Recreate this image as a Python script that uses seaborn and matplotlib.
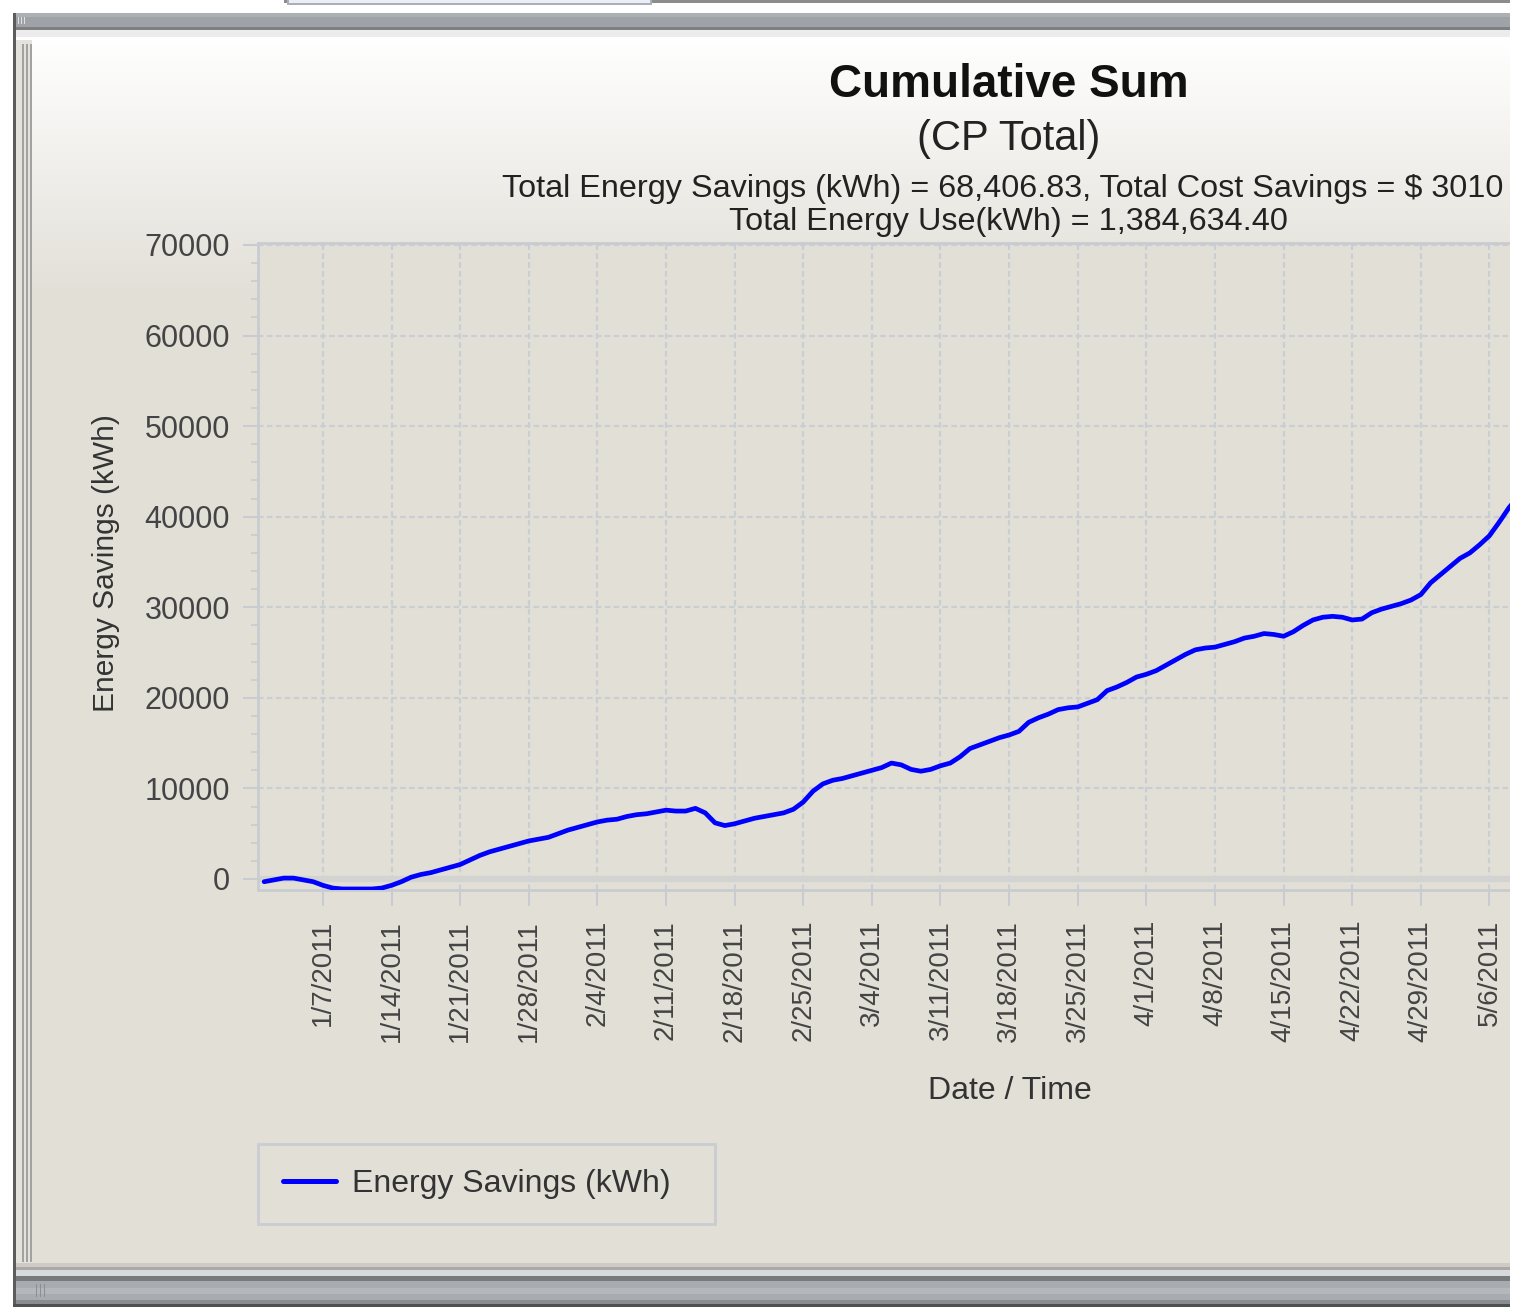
import numpy as np
import pandas as pd
import matplotlib
matplotlib.use("Agg")
import matplotlib.pyplot as plt
import matplotlib.dates as mdates
from matplotlib.ticker import MultipleLocator, FuncFormatter
from matplotlib.patches import Rectangle
import seaborn as sns

# ---------------- data ----------------
title = "Cumulative Sum"
subtitle = "(CP Total)"
info_line1 = "Total Energy Savings (kWh) = 68,406.83, Total Cost Savings = $ 3010"
info_line2 = "Total Energy Use(kWh) = 1,384,634.40"
x_label = "Date / Time"
y_label = "Energy Savings (kWh)"
series_name = "Energy Savings (kWh)"
start_date = "2011-01-01"          # daily cumulative values start here
savings = [
    -300, -100, 100, 100, -100, -300, -700, -1000, -1100, -1100,
    -1100, -1100, -1000, -700, -300, 200, 500, 700, 1000, 1300,
    1600, 2100, 2600, 3000, 3300, 3600, 3900, 4200, 4400, 4600,
    5000, 5400, 5700, 6000, 6300, 6500, 6600, 6900, 7100, 7200,
    7400, 7600, 7500, 7500, 7800, 7300, 6200, 5900, 6100, 6400,
    6700, 6900, 7100, 7300, 7700, 8500, 9700, 10500, 10900, 11100,
    11400, 11700, 12000, 12300, 12800, 12600, 12100, 11900, 12100, 12500,
    12800, 13500, 14400, 14800, 15200, 15600, 15900, 16300, 17300, 17800,
    18200, 18700, 18900, 19000, 19400, 19800, 20800, 21200, 21700, 22300,
    22600, 23000, 23600, 24200, 24800, 25300, 25500, 25600, 25900, 26200,
    26600, 26800, 27100, 27000, 26800, 27300, 28000, 28600, 28900, 29000,
    28900, 28600, 28700, 29400, 29800, 30100, 30400, 30800, 31400, 32700,
    33600, 34500, 35400, 36000, 36900, 37900, 39400, 41000, 42300,
]
y_ticks = [0, 10000, 20000, 30000, 40000, 50000, 60000, 70000]

# ---------------- figure ----------------
W, H = 1522, 1315
sns.set_theme(style="white")
plt.rcParams['font.family'] = ['Liberation Sans', 'DejaVu Sans']

fig = plt.figure(figsize=(W / 100, H / 100), dpi=100)
fig.patch.set_facecolor("white")

BEIGE = "#E2DFD7"
GRID = "#C9CED3"

# background / window frame (pixel coords, y downward)
bg = fig.add_axes([0, 0, 1, 1], zorder=-10)
bg.axis("off")


def rect(x0, y0, x1, y1, color, z=2):
    bg.add_patch(Rectangle((x0, y0), x1 - x0, y1 - y0, facecolor=color,
                           edgecolor="none", zorder=z))


# panel gradient (white -> beige)
n = 400
top_c = np.array([1.0, 1.0, 1.0])
bot_c = np.array([0xE2, 0xDF, 0xD7]) / 255.0
t = np.clip(np.linspace(0, 1, n) * (1228 / 260.0), 0, 1)[:, None]
grad = (top_c * (1 - t) + bot_c * t)[:, None, :]
bg.imshow(grad, extent=(16, 1510, 1265, 37), aspect="auto", zorder=1)

# top strip and tab
rect(284, 0, 1522, 3, "#8C8C8C")
rect(287, 0, 652, 5, "#A9AFBF")
rect(289, 0, 650, 3, "#ECEEF4")
# window title bar
rect(13, 13, 1510, 30, "#9FA3A7")
rect(13, 13, 1510, 17, "#ADB0B3")
rect(13, 27, 1510, 30, "#7D7F82")
rect(16, 30, 1510, 37, "#ECECEC")
for gx in (18, 21, 24):
    rect(gx, 17, gx + 1, 24, "#E0E0E0", z=3)
# outer left border
rect(13, 13, 16, 1306, "#5C5C5C")
# left splitter lines
rect(16, 40, 32, 1263, "#E4E2DD", z=3)
for lx in (22, 26, 30):
    rect(lx, 44, lx + 2, 1262, "#A2A2A0", z=4)
# bottom bars
rect(16, 1263, 1510, 1267, "#CFCBC4")
rect(16, 1267, 1510, 1270, "#A9A9A6")
rect(16, 1270, 1510, 1276, "#D7D9DC")
rect(16, 1276, 1510, 1281, "#77797B")
rect(16, 1281, 1510, 1300, "#A8ACB0")
rect(16, 1288, 1510, 1294, "#B4B8BB")
rect(16, 1300, 1510, 1304, "#8A8D90")
rect(13, 1304, 1510, 1307, "#505050")
for gx in (36, 40, 44):
    rect(gx, 1284, gx + 1, 1297, "#8D9093", z=3)

bg.set_xlim(0, W)
bg.set_ylim(H, 0)

# ---------------- main plot ----------------
ax = fig.add_axes([258 / W, 1 - 890 / H, (1510 - 258) / W, (890 - 243) / H])
ax.set_facecolor(BEIGE)

df = pd.DataFrame({
    "Date": pd.date_range(start_date, periods=len(savings), freq="D"),
    "Savings": savings,
})
sns.lineplot(data=df, x="Date", y="Savings", ax=ax, color="#0000FF",
             linewidth=3.4, label=series_name, zorder=5)

x0 = pd.Timestamp(start_date)
ax.set_xlim(x0 - pd.Timedelta(hours=15), x0 + pd.Timedelta(hours=127.1 * 24))
ax.set_ylim(-1215, 70220)

ax.set_axisbelow(True)
ax.grid(True, which="major", axis="both", color=GRID,
        linestyle=(0, (2.5, 1.5)), linewidth=1.6)
ax.axhline(0, color="#D3D3D1", linewidth=4.5, zorder=1)

for s in ("left", "top", "bottom"):
    ax.spines[s].set_color("#C8CCD1")
    ax.spines[s].set_linewidth(2)
ax.spines["right"].set_visible(False)

# x ticks: weekly on Fridays
ax.xaxis.set_major_locator(mdates.WeekdayLocator(byweekday=mdates.FR))


def date_fmt(v, p):
    d = mdates.num2date(v)
    return f"{d.month}/{d.day}/{d.year}"


ax.xaxis.set_major_formatter(FuncFormatter(date_fmt))
ax.tick_params(axis="x", which="major", bottom=True, rotation=90,
               labelsize=20, labelcolor="#444444", length=11.5, width=1.5,
               color="#C8CCD1", pad=10)

ax.set_yticks(y_ticks)
ax.yaxis.set_minor_locator(MultipleLocator(2000))
ax.yaxis.set_major_formatter(FuncFormatter(lambda v, p: f"{v:.0f}"))
ax.tick_params(axis="y", which="major", left=True, labelsize=22,
               labelcolor="#444444", length=11, width=1.5, color="#C8CCD1",
               pad=9)
ax.tick_params(axis="y", which="minor", left=True, length=5, width=1.2,
               color="#C8CCD1")

ax.set_xlabel(x_label, fontsize=23, color="#333333")
ax.xaxis.set_label_coords(0.6006, -0.2875)
ax.set_ylabel(y_label, fontsize=21.5, color="#333333")
ax.yaxis.set_label_coords(-0.11, 0.505)

# titles
fig.text(1009 / W, 1 - 97 / H, title, ha="center", va="baseline",
         fontsize=33, fontweight="bold", color="#111111")
fig.text(1009 / W, 1 - 150 / H, subtitle, ha="center", va="baseline",
         fontsize=30, color="#222222")
fig.text(502 / W, 1 - 197 / H, info_line1, ha="left", va="baseline",
         fontsize=23.3, color="#222222")
fig.text(1008 / W, 1 - 230 / H, info_line2, ha="center", va="baseline",
         fontsize=23.3, color="#222222")

# legend
leg = ax.legend(loc="center",
                bbox_to_anchor=(258 / W, 1 - 1225 / H, 457 / W, 82 / H),
                bbox_transform=fig.transFigure, mode="expand",
                borderaxespad=0, fontsize=23, handlelength=1.65,
                handletextpad=0.5, borderpad=0.78, frameon=True,
                fancybox=False, facecolor=BEIGE, edgecolor="#C9CDD2",
                framealpha=1)
leg.get_frame().set_linewidth(2)
for tx in leg.get_texts():
    tx.set_color("#333333")
for ln in leg.get_lines():
    ln.set_linewidth(3.6)

# right edge of screenshot (cropped)
fig.add_artist(Rectangle((1510 / W, 0), 12 / W, 1, transform=fig.transFigure,
                         facecolor="white", edgecolor="none", zorder=50))

fig.savefig("out.png", dpi=100)
